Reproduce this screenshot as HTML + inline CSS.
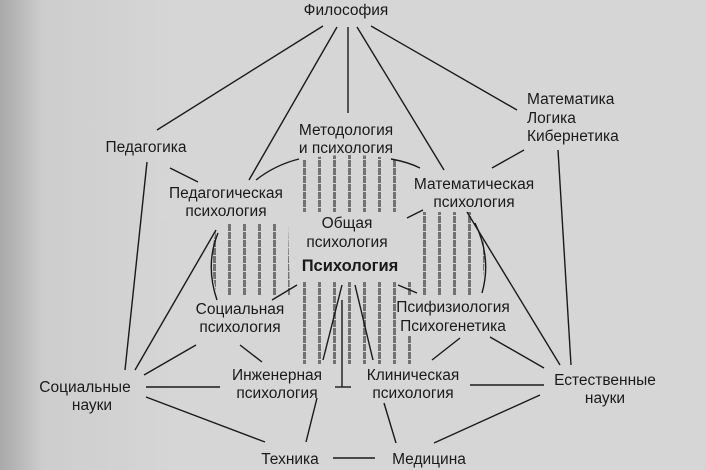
<!DOCTYPE html>
<html><head><meta charset="utf-8"><style>
html,body{margin:0;padding:0;background:#d6d6d6;}
svg{display:block;}
text{font-family:"Liberation Sans",sans-serif;font-size:15.5px;fill:#1a1a1a;text-anchor:middle;}
</style></head><body>
<svg width="705" height="470" viewBox="0 0 705 470" xmlns="http://www.w3.org/2000/svg">
<defs>
<linearGradient id="bg" x1="0" x2="1" y1="0" y2="0">
<stop offset="0" stop-color="#a9a9a9"/><stop offset="0.06" stop-color="#cdcdcd"/><stop offset="0.25" stop-color="#d6d6d6"/><stop offset="1" stop-color="#d6d6d6"/>
</linearGradient>
<pattern id="h" width="15" height="8" patternUnits="userSpaceOnUse" x="3">
<rect x="0" y="0" width="3" height="7" fill="#727272"/>
</pattern>
</defs>
<rect width="705" height="470" fill="url(#bg)"/>
<path d="M300,160 Q346,150 400,160 L405,212 L295,212 Z" fill="url(#h)"/>
<path d="M218,224 L288,224 L290,298 L218,298 Q206,260 218,224 Z" fill="url(#h)"/>
<path d="M412,210 L476,210 Q492,255 478,298 L412,298 Z" fill="url(#h)"/>
<path d="M292,282 L412,282 L412,364 L292,364 Z" fill="url(#h)"/>
<g fill="#d6d6d6">
<rect x="290" y="212" width="120" height="70"/>
<rect x="205" y="296" width="90" height="40"/>
<rect x="405" y="296" width="100" height="40"/>
<rect x="225" y="364" width="110" height="38"/>
<rect x="360" y="364" width="110" height="38"/>
<rect x="160" y="178" width="130" height="42"/>
<rect x="410" y="170" width="130" height="42"/>
</g>
<g stroke="#1a1a1a" stroke-width="1.4" fill="none">
<line x1="323" y1="26" x2="157" y2="130"/>
<line x1="337" y1="27" x2="249" y2="180"/>
<line x1="348" y1="27" x2="348" y2="113"/>
<line x1="357" y1="27" x2="444" y2="170"/>
<line x1="371" y1="26" x2="517" y2="110"/>
<line x1="147" y1="162" x2="125" y2="370"/>
<line x1="170" y1="168" x2="198" y2="182"/>
<line x1="524" y1="150" x2="492" y2="168"/>
<line x1="558" y1="150" x2="571" y2="365"/>
<path d="M256,180 Q275,165 299,159"/>
<path d="M391,159 Q408,162 420,168"/>
<line x1="135" y1="370" x2="216" y2="230"/>
<path d="M218,233 Q205,265 217,300"/>
<line x1="144" y1="375" x2="196" y2="345"/>
<line x1="146" y1="387" x2="220" y2="387"/>
<line x1="146" y1="397" x2="265" y2="442"/>
<line x1="317" y1="398" x2="306" y2="442"/>
<line x1="333" y1="458" x2="375" y2="458"/>
<line x1="384" y1="403" x2="396" y2="443"/>
<line x1="540" y1="395" x2="434" y2="443"/>
<line x1="470" y1="385" x2="544" y2="385"/>
<line x1="544" y1="368" x2="490" y2="337"/>
<line x1="467" y1="212" x2="560" y2="365"/>
<path d="M475,223 Q492,258 482,293"/>
<line x1="342" y1="300" x2="342" y2="387"/>
<line x1="335" y1="387" x2="351" y2="387"/>
<line x1="342" y1="285" x2="323" y2="360"/>
<line x1="355" y1="285" x2="373" y2="360"/>
<line x1="297" y1="285" x2="272" y2="300"/>
<line x1="398" y1="285" x2="417" y2="293"/>
<line x1="240" y1="345" x2="262" y2="362"/>
<line x1="460" y1="338" x2="432" y2="360"/>
<line x1="423" y1="210" x2="407" y2="218"/>
</g>
<text x="346" y="15">Философия</text>
<text x="527" y="104" style="text-anchor:start">Математика</text>
<text x="527" y="123" style="text-anchor:start">Логика</text>
<text x="527" y="141" style="text-anchor:start">Кибернетика</text>
<text x="146" y="152">Педагогика</text>
<text x="346" y="135">Методология</text>
<text x="346" y="153">и психология</text>
<text x="226" y="198">Педагогическая</text>
<text x="226" y="216">психология</text>
<text x="474" y="189">Математическая</text>
<text x="474" y="207">психология</text>
<text x="347" y="228">Общая</text>
<text x="347" y="247">психология</text>
<text x="350" y="271" style="font-weight:bold;font-size:16.5px">Психология</text>
<text x="240" y="314">Социальная</text>
<text x="240" y="332">психология</text>
<text x="453" y="312">Псифизиология</text>
<text x="453" y="331">Психогенетика</text>
<text x="277" y="380">Инженерная</text>
<text x="277" y="398">психология</text>
<text x="413" y="380">Клиническая</text>
<text x="413" y="398">психология</text>
<text x="605" y="385">Естественные</text>
<text x="605" y="403">науки</text>
<text x="85" y="392">Социальные</text>
<text x="92" y="410">науки</text>
<text x="290" y="464">Техника</text>
<text x="429" y="464">Медицина</text>
</svg>
</body></html>
